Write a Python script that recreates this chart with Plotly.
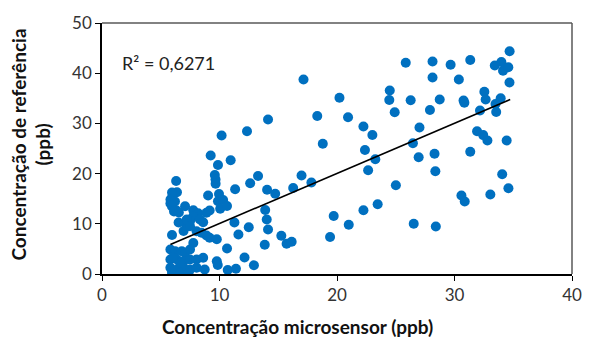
import plotly.graph_objects as go

sensor_ppb = [
    34.69, 25.85, 28.13, 29.67, 31.34, 33.43, 33.99, 34.13, 34.58, 28.13,
    30.37, 34.68, 20.21, 24.49, 24.45, 26.27, 28.74, 30.77, 30.84, 32.54,
    32.65, 33.93, 33.49, 32.17, 33.55, 24.91, 27.91, 20.94, 22.25, 23.01,
    27.02, 31.92, 32.44, 32.80, 34.44, 22.38, 23.26, 26.46, 26.95, 28.30,
    28.37, 31.34, 22.65, 34.06, 25.01, 30.59, 30.87, 33.05, 34.59, 19.72,
    21.00, 22.25, 23.46, 19.41, 26.53, 28.41,
    17.15, 18.32, 18.79, 14.13, 12.34, 13.28, 12.61, 16.98, 17.82, 16.27,
    14.05, 14.74, 13.89, 14.02, 14.13, 12.49, 15.26, 15.71, 16.14, 13.85,
    12.13, 12.93,
    10.18, 9.25, 10.95, 9.87, 9.60, 9.66, 9.67, 6.31, 11.33, 9.03,
    9.96, 9.87, 10.31, 10.06, 10.64, 6.38, 5.96, 5.82, 6.32, 7.07,
    7.77, 8.18, 8.89, 9.16, 7.77, 7.49, 7.21, 8.33, 8.61, 6.52,
    5.96, 6.94, 8.05, 8.47, 8.89, 9.16, 9.77, 11.27, 11.61, 7.77,
    10.64, 5.82, 6.23, 6.79, 7.07, 7.49, 5.82, 6.38, 6.94, 7.49,
    8.05, 5.82, 6.38, 6.94, 7.49, 8.05, 5.96, 6.65, 7.36, 8.74,
    9.77, 9.85, 10.70, 11.40, 8.61, 5.96, 5.83, 6.21, 5.96, 6.13,
    6.54, 7.21, 6.65, 6.04, 7.49,
]
reference_ppb = [
    44.38, 42.07, 42.33, 41.67, 42.63, 41.53, 42.23, 40.48, 41.18, 39.14,
    38.75, 38.15, 35.10, 36.55, 34.66, 34.62, 34.76, 34.56, 34.10, 36.31,
    34.76, 35.02, 33.86, 32.57, 32.27, 32.21, 32.67, 31.22, 29.38, 27.69,
    29.18, 28.43, 27.67, 26.59, 26.59, 24.70, 22.85, 26.06, 23.27, 23.96,
    20.48, 24.36, 20.68, 19.88, 17.69, 15.64, 14.44, 15.84, 17.09, 11.55,
    9.82, 12.71, 13.90, 7.37, 10.00, 9.46,
    38.75, 31.47, 25.94, 30.78, 28.45, 19.52, 18.07, 19.62, 18.23, 17.13,
    16.79, 16.00, 12.75, 10.86, 8.86, 9.30, 7.61, 6.04, 6.43, 5.84,
    3.29, 1.75,
    27.59, 23.61, 22.67, 21.71, 19.72, 18.82, 17.97, 18.53, 16.87, 15.64,
    15.94, 14.50, 14.74, 12.99, 13.55, 16.29, 15.18, 14.04, 12.71, 13.51,
    12.71, 12.11, 12.19, 12.65, 11.51, 10.52, 9.52, 10.86, 10.32, 10.26,
    7.77, 8.57, 8.53, 8.21, 7.67, 7.21, 6.93, 10.26, 7.87, 6.18,
    5.08, 4.88, 4.54, 4.54, 4.22, 4.88, 2.89, 2.89, 2.55, 2.89,
    2.89, 1.24, 0.90, 1.24, 0.90, 1.24, 0.24, 0.10, 0.10, 0.90,
    2.55, 1.79, 0.80, 1.04, 3.23, 16.24, 14.84, 14.44, 13.45, 12.45,
    12.25, 10.86, 2.23, 3.23, 9.52,
]
# Linear trendline endpoints
trend_x = [5.82, 34.74]
trend_y = [5.88, 34.76]
r2_label = "R² = 0,6271"
x_ticks = [0, 10, 20, 30, 40]
y_ticks = [0, 10, 20, 30, 40, 50]

FONT = "Lato, 'Open Sans', sans-serif"

fig = go.Figure()
fig.add_trace(go.Scatter(
    x=sensor_ppb, y=reference_ppb, mode="markers",
    marker=dict(color="#0070C0", size=10, line=dict(width=0)),
    showlegend=False, hoverinfo="skip"))
fig.add_trace(go.Scatter(
    x=trend_x, y=trend_y, mode="lines",
    line=dict(color="black", width=1.6),
    showlegend=False, hoverinfo="skip"))

L, R, T, B = 102, 11, 23, 63
W, H = 593, 337
pw, ph = W - L - R, H - T - B

tick_font = dict(family=FONT, size=17, color="#333333")
fig.update_layout(
    width=W, height=H,
    margin=dict(l=L, r=R, t=T, b=B),
    paper_bgcolor="white", plot_bgcolor="white",
    xaxis=dict(range=[0, 40], tickvals=x_ticks, showgrid=False, zeroline=False,
               showline=True, linecolor="black", linewidth=1.5,
               ticks="outside", ticklen=5, tickcolor="black", tickwidth=1.2,
               tickfont=tick_font, fixedrange=True),
    yaxis=dict(range=[0, 50], tickvals=y_ticks, showgrid=False, zeroline=False,
               showline=True, linecolor="black", linewidth=1.5,
               ticks="outside", ticklen=5, tickcolor="black", tickwidth=1.2,
               tickfont=tick_font, fixedrange=True),
    shapes=[
        dict(type="line", xref="paper", yref="paper", x0=0, x1=1, y0=1, y1=1,
             line=dict(color="#595959", width=1.5)),
        dict(type="line", xref="paper", yref="paper", x0=1, x1=1, y0=0, y1=1,
             line=dict(color="#595959", width=1.5)),
    ],
    annotations=[
        dict(text=r2_label, xref="paper", yref="paper", x=(120 - L) / pw, y=(274 - 63) / ph,
             xanchor="left", yanchor="middle", showarrow=False,
             font=dict(family=FONT, size=18, color="#222222")),
        dict(text="<b>Concentração microsensor (ppb)</b>", xref="paper", yref="paper",
             x=(302 - L) / pw, y=-(326 - 274) / ph, xanchor="center", yanchor="middle",
             showarrow=False,
             font=dict(family=FONT, size=19, color="#111111")),
        dict(text="<b>Concentração de referência<br>(ppb)</b>", xref="paper", yref="paper",
             x=-(L - 29) / pw, y=(274 - 145) / ph, xanchor="center", yanchor="middle",
             textangle=-90, showarrow=False,
             font=dict(family=FONT, size=19, color="#111111")),
    ],
)

fig.write_html("out.html")
